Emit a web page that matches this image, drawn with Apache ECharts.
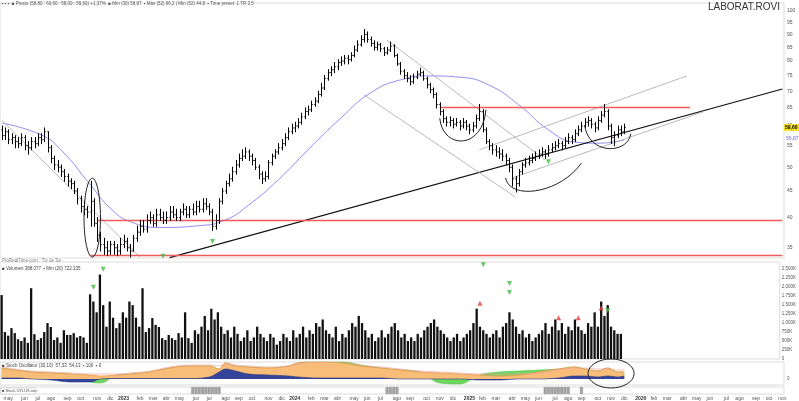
<!DOCTYPE html>
<html><head><meta charset="utf-8">
<script src="https://cdn.jsdelivr.net/npm/echarts@6/dist/echarts.min.js"></script>
<style>html,body{margin:0;padding:0;background:#fff}#c{width:799px;height:401px}</style>
</head><body><div id="c"></div>
<script>
// ---------- data ----------
const startDate = [2022, 3, 18];   // first weekly bar (Monday)
const weekCount = 238;             // weeks on the axis (data + empty future)
const MONTHS = ['ene','feb','mar','abr','may','jun','jul','ago','sep','oct','nov','dic'];

const open = [59,57.5,58.5,56.5,57,56,55.5,57,55,54.5,
56,55.5,57,56.5,58.5,54.5,52,50.5,50,49,
48,47,46.5,45,43.5,42,41.5,41,43,39,
37,35.5,35,34.5,35.5,35,34.5,35.5,36,35,
34.5,36.5,37.5,38.5,38,39.5,40,39,40.5,40,
39.5,40,41,40.5,40,41,41.5,40.5,41.5,41,
42,41.5,42.5,42,41,38.5,39.5,43,45,46.5,
47.5,49,50.5,52,52.5,53.5,52.5,51.5,50,48.5,
47.5,48,51,52.5,53.5,54.5,55.5,57,58.5,59.5,
60,61,62.5,64,64.5,66,67,69,71,74,
76,77,78,79.5,80,81,80.5,82,84,86,
88,90,88,86.5,85,86,84.5,83,84,85.5,
82,79,76.5,75,74,73,74.5,75.5,76,74,
72,70.5,69,66,64,62,61,61.5,60.5,61,
60,61,60,59,60,62,64,59,56,55,
54,53.5,53,52.5,51.5,50,47.5,46.5,49,50.5,
51,51.5,52,52.5,53,53.5,53,54,54.5,55,
55.5,55,56,57,56.5,58,59,60,61,61.5,
60.5,59.5,61.5,63,64,60,57,57.5,59,58.5];
const high = [60,59.5,59,58,57.5,57,58,57.5,56,57,
57,58,58,59.5,58.5,55,52.5,51.5,50.5,49.5,
48.5,47.5,47,45.5,44,43,42,47,43.5,40,
37.5,36.5,36,36,36,35.5,36.5,37,36.5,35.5,
37,38.5,39.5,39.5,40.5,41,40.5,41.5,41.5,41,
41,42,42,41.5,41.5,42.5,42,42,42.5,43,
43,43.5,43.5,42.5,41.5,40.5,43.5,45.5,47,48.5,
50,51.5,53,54,54.5,54,53,52,50.5,49,
49,51.5,53,54,55.5,56.5,58,59.5,60.5,61,
62,63.5,65,65.5,67,68,70,72.5,75,77,
78,79.5,80.5,81.5,82,82,83,85.5,87.5,89.5,
92,91,89,87.5,87,86.5,85,85,87,86,
82.5,79.5,77,76,75,75.5,76.5,77.5,76.5,74.5,
72.5,71,69.5,66.5,64.5,62.5,62.5,62,62,61.5,
62,61.5,60.5,61,63,66,64.5,59.5,56.5,55.5,
55,54.5,54,53,52,50.5,48,49.5,51,52,
52.5,53,53.5,54,54.5,54,55,55.5,56,56.5,
56,57,58,57.5,59,60,61,62,62.5,62,
61,62.5,64,66,64.5,60.5,58.5,60,60,60.5];
const low = [56.5,56.5,55.5,55.5,54.5,54.5,55,54,53,54,
54.5,55,55.5,56,53.5,51,49.5,49,48,47,
46,45.5,44.5,42.5,41,40.5,40,38.5,38.5,36,
34.5,34,33.8,34,34,33.8,34,35,34.5,33.6,
34.5,36,37,37.5,37.5,39,38.5,38.5,39.5,39,
39,39.5,40,39.5,39.5,40.5,40,40,40.5,40.5,
41,41,41.5,40.5,37.8,38,39,42.5,44.5,46,
47,48.5,50,51.5,52,51.5,50.5,49.5,47.5,46.5,
47,47.5,50.5,52,53,54,55,56.5,58,58.5,
59.5,60.5,62,63,64,65.5,66.5,68.5,70.5,73.5,
75,76,77,78.5,79,79,80,81.5,83.5,85.5,
87,87,85.5,84,84,83.5,82,82.5,83.5,81.5,
78.5,75.5,74,73,72,72.5,74,75,73.5,71,
69.5,68,65,63,61,60,60,59.5,60,59,
59.5,59,58,58.5,59.5,61.5,58.5,55.5,54,53,
52.5,52,51.5,50.5,49,46,44.8,46,48.5,50,
50.5,51,51.5,52,52.5,52,52.5,53.5,54,54.5,
54,54.5,55.5,55.5,56,57.5,58.5,59.5,60,59.5,
58.5,59,61,62.5,59,55.5,55,57,57.5,58];
const close = [57.5,58.5,56.5,57,56,55.5,57,55,54.5,56,
55.5,57,56.5,58.5,54.5,52,50.5,50,49,48,
47,46.5,45,43.5,42,41.5,41,43,39,37,
35.5,35,34.5,35.5,35,34.5,35.5,36,35,34.5,
36.5,37.5,38.5,38,39.5,40,39,40.5,40,39.5,
40,41,40.5,40,41,41.5,40.5,41.5,41,42,
41.5,42.5,42,41,38.5,39.5,43,45,46.5,47.5,
49,50.5,52,52.5,53.5,52.5,51.5,50,48.5,47.5,
48,51,52.5,53.5,54.5,55.5,57,58.5,59.5,60,
61,62.5,64,64.5,66,67,69,71,74,76,
77,78,79.5,80,81,80.5,82,84,86,88,
90,88,86.5,85,86,84.5,83,84,85.5,82,
79,76.5,75,74,73,74.5,75.5,76,74,72,
70.5,69,66,64,62,61,61.5,60.5,61,60,
61,60,59,60,62,64,59,56,55,54,
53.5,53,52.5,51.5,50,47.5,46.5,49,50.5,51,
51.5,52,52.5,53,53.5,53,54,54.5,55,55.5,
55,56,57,56.5,58,59,60,61,61.5,60.5,
59.5,61.5,63,64,60,57,57.5,59,58.5,59.6];
// weekly volume, millions of shares
const volume = [1.78,0.75,0.65,0.86,0.72,0.55,0.5,0.6,0.45,1.97,
0.69,0.53,0.58,0.75,1.0,0.89,0.53,0.6,0.45,0.8,
0.67,0.67,0.72,0.6,0.64,0.6,0.45,1.8,1.6,1.3,
2.35,1.5,0.9,1.6,1.15,0.86,1.0,1.3,1.15,1.6,
1.5,1.15,0.9,1.97,0.75,0.86,1.14,0.95,0.89,0.58,
0.53,0.67,0.58,0.53,0.72,0.6,1.3,0.58,0.45,0.8,
0.7,0.9,1.2,0.8,1.4,1.1,1.3,0.9,0.7,0.8,
0.6,0.9,0.7,0.5,0.6,0.8,0.5,0.6,0.9,0.7,
0.6,0.5,0.7,0.6,0.4,0.5,0.7,0.6,0.5,0.8,
0.6,0.7,0.9,0.6,0.8,0.7,1.0,0.9,1.1,0.8,
0.7,0.6,0.9,0.5,0.7,0.6,0.8,1.0,0.9,1.2,
1.0,0.8,0.6,0.7,0.5,0.6,0.8,0.6,0.7,0.9,
1.0,0.8,0.6,0.7,0.5,0.6,0.5,0.7,0.6,0.8,
0.9,1.0,1.1,0.9,0.8,0.7,0.6,0.5,0.6,0.7,
0.5,0.6,0.7,0.8,1.0,1.4,0.9,0.8,0.7,0.6,
0.7,0.8,0.6,0.9,1.0,1.3,1.1,0.9,0.7,0.8,
0.6,0.7,0.5,0.6,0.7,0.8,1.0,0.7,0.9,1.1,
0.8,1.0,0.7,0.9,0.8,1.1,0.9,0.8,0.7,1.0,
0.9,1.3,0.9,1.6,1.2,1.5,0.9,0.8,0.7,0.7];

// moving average (blue), read at sample weeks
const maWeek = [0,12,18,27,33,39,48,60,68,75,84,93,103,112,121,130,139,148,157,166,174,181,189];
const maValue = [60.8,57.7,54.0,46.2,41.7,39.3,38.3,38.6,39.6,42.3,47.3,54.0,62.2,69.5,73.6,74.9,74.5,71.9,65.9,59.0,55.9,55.6,56.4];

// oscillator panel, read at sample weeks
const oscWeek = [0,4,9,15,21,27,30,35,39,45,51,57,63,66,68,71,75,81,87,90,96,103,109,115,121,127,133,139,145,151,157,163,169,174,177,181,184,187,189];
const oscOrange = [11,9,7,6,5,4,3,4,5,7,11,13,13,10,16,13,12,11,13,16,17,16,13,11,9,7,6,5,4,3,4,7,10,12,10,8,11,7,7];
const oscNavy = [1,1,0,-1,-3,-3,0,0.5,0.5,0.5,0.5,0.5,2,7,10,8,5,4,3,2,1,1,1,1,0,0,0,0,-1,-1,0,0,1,3,3,2,3,2,3];
const oscGreen = [11,9,7,6,5,-3,-4,4,5,7,11,13,13,10,16,13,12,11,13,16,19,18,14,11,9,7,-4,-5,4,7,8,9,10,12,10,8,11,7,7];
const oscPink = [12,10,8,7,6,5,5,5,6,8,12,14,14,13,15,14,13,12,13,15,17,17,14,12,10,8,7,6,5,5,5,6,9,11,11,10,10,9,9];

const eventWeeks = [58,59,60,61,62,63,64,65,66,117,118,119,120,165,166,167,168,169,170,171,172,176];

const priceTicks = [35,40,45,50,55,60,65,70,75,80,85,90,95,100];
const priceRange = [33.45, 103.45];
const volMax = 2.7, volStep = 0.25;

// drawings (week index, price)
const trendLine = [[50.5, 33.5], [237, 70.7]];
const channelLines = [
  [[0, 61.6], [42, 33.6]],
  [[117, 87.8], [165, 51.6]],
  [[110, 68.9], [156, 43.8]],
  [[145, 54.0], [207.5, 74.9]],
  [[155, 47.7], [212.5, 63.9]]
];
const redLines = [[[133, 65.3], [209, 65.3]], [[29, 39.5], [237, 39.5]], [[27, 33.9], [237, 33.9]]];
const greenSignalsPrice = [[49, 33.7], [64, 36.0], [166, 51.2]];
const greenSignalsVol = [[28, 2.0], [31, 2.5], [147, 2.62], [155, 2.1], [155, 1.85], [185, 1.35]];
const redSignalsVol = [[146, 1.55], [170, 1.15], [176, 1.15], [183, 1.42]];
const lastPrice = 59.60, lastMA = 56.87;

// ---------- build ----------
const LN = Math.log;
const weeks = [];
for (let k = 0; k < weekCount; k++) {
  const d = new Date(Date.UTC(startDate[0], startDate[1], startDate[2]) + k * 7 * 864e5);
  weeks.push(d.toISOString().slice(0, 10));
}
const ohlc = close.map((c, i) => [i, LN(open[i]), LN(high[i]), LN(low[i]), LN(c)]);
const pair = (xs, ys, f) => xs.map((x, k) => [x, f ? f(ys[k]) : ys[k]]);

const chart = echarts.init(document.getElementById('c'), null, {width: 799, height: 401});
const gridCommon = {left: 0, right: 15, show: true, borderColor: '#dcdcdc', borderWidth: 1, backgroundColor: '#fff'};
const grids = [
  Object.assign({top: 3, height: 255}, gridCommon),
  Object.assign({top: 262, height: 97}, gridCommon),
  Object.assign({top: 362, height: 23}, gridCommon),
  Object.assign({top: 387, height: 8}, gridCommon)
];
const xAxes = grids.map((g, gi) => ({
  type: 'category', gridIndex: gi, data: weeks, boundaryGap: true,
  axisLine: {show: false}, axisTick: {show: false}, splitLine: {show: false},
  axisLabel: gi === 3 ? {
    show: true, fontSize: 5, color: '#555', margin: 2,
    interval: (idx, val) => +val.slice(8, 10) <= 7,
    formatter: (val) => { const m = +val.slice(5, 7) - 1; return m === 0 ? '{y|' + val.slice(0, 4) + '}' : MONTHS[m]; },
    rich: {y: {fontSize: 5, fontWeight: 'bold', color: '#333'}}
  } : {show: false}
}));
const yAxes = [
  {type: 'value', gridIndex: 0, position: 'right', min: LN(priceRange[0]), max: LN(priceRange[1]),
   axisLine: {show: false}, axisTick: {show: false}, splitLine: {show: false},
   axisLabel: {customValues: priceTicks.map(LN), formatter: v => String(Math.round(Math.exp(v))), fontSize: 5, color: '#555', margin: 3}},
  {type: 'value', gridIndex: 1, position: 'right', min: 0, max: volMax, interval: volStep,
   axisLine: {show: false}, axisTick: {show: false}, splitLine: {show: false},
   axisLabel: {fontSize: 4.5, color: '#555', margin: 2, showMaxLabel: false,
     formatter: v => v === 0 ? '0' : Math.round(v * 1000).toLocaleString('de-DE') + 'K'}},
  {type: 'value', gridIndex: 2, position: 'right', min: -6, max: 17,
   axisLine: {show: false}, axisTick: {show: false}, splitLine: {show: false},
   axisLabel: {customValues: [0], formatter: () => '0', fontSize: 4.5, color: '#555', margin: 3}},
  {type: 'value', gridIndex: 3, position: 'right', min: 0, max: 1,
   axisLine: {show: false}, axisTick: {show: false}, splitLine: {show: false}, axisLabel: {show: false}}
];

const lnPair = p => [p[0], LN(p[1])];
const mlData = [];
mlData.push([{coord: lnPair(trendLine[0]), lineStyle: {color: '#111', width: 1.2, type: 'solid'}}, {coord: lnPair(trendLine[1])}]);
channelLines.forEach(l => mlData.push([{coord: lnPair(l[0]), lineStyle: {color: '#a8a8a8', width: 0.8, type: 'solid'}}, {coord: lnPair(l[1])}]));
redLines.forEach(l => mlData.push([{coord: lnPair(l[0]), lineStyle: {color: '#f05a5a', width: 1.3, type: 'solid'}}, {coord: lnPair(l[1])}]));

const areaLine = (data, color, fill, w, z) => ({
  type: 'line', xAxisIndex: 2, yAxisIndex: 2, data, smooth: 0.4, showSymbol: false, symbol: 'none', z,
  lineStyle: {color, width: w}, areaStyle: fill ? {color: fill, opacity: 1} : undefined, silent: true
});

const option = {
  animation: false,
  grid: grids, xAxis: xAxes, yAxis: yAxes,
  series: [
    {
      type: 'custom', xAxisIndex: 0, yAxisIndex: 0, data: ohlc, clip: true, z: 5,
      encode: {x: 0, y: [1, 2, 3, 4]},
      renderItem: (params, api) => {
        const i = api.value(0);
        const h = api.coord([i, api.value(2)]);
        const l = api.coord([i, api.value(3)]);
        const o = api.coord([i, api.value(1)]);
        const c = api.coord([i, api.value(4)]);
        const x = Math.round(h[0]) + 0.5;
        const w = 1.2;
        const st = {stroke: '#000', lineWidth: 1};
        return {type: 'group', children: [
          {type: 'line', shape: {x1: x, y1: h[1] - 0.5, x2: x, y2: l[1] + 0.5}, style: st},
          {type: 'line', shape: {x1: x - w, y1: o[1], x2: x, y2: o[1]}, style: st},
          {type: 'line', shape: {x1: x, y1: c[1], x2: x + w, y2: c[1]}, style: st}
        ]};
      }
    },
    {
      type: 'line', xAxisIndex: 0, yAxisIndex: 0, data: pair(maWeek, maValue, LN), smooth: 0.5,
      showSymbol: false, symbol: 'none', lineStyle: {color: '#8e8ef2', width: 1}, z: 3, silent: true,
      markLine: {silent: true, symbol: ['none', 'none'], label: {show: false}, animation: false, data: mlData}
    },
    {
      type: 'scatter', xAxisIndex: 0, yAxisIndex: 0, data: greenSignalsPrice.map(lnPair),
      symbol: 'triangle', symbolRotate: 180, symbolSize: [5, 5], itemStyle: {color: '#3cbf3c'}, z: 6, silent: true
    },
    {
      type: 'bar', xAxisIndex: 1, yAxisIndex: 1, data: volume, barWidth: 2.3, itemStyle: {color: '#111'}, silent: true
    },
    {
      type: 'scatter', xAxisIndex: 1, yAxisIndex: 1, data: greenSignalsVol,
      symbol: 'triangle', symbolRotate: 180, symbolSize: [5, 5], itemStyle: {color: '#3cbf3c'}, z: 6, silent: true
    },
    {
      type: 'scatter', xAxisIndex: 1, yAxisIndex: 1, data: redSignalsVol,
      symbol: 'triangle', symbolSize: [5, 5], itemStyle: {color: '#e53935'}, z: 6, silent: true
    },
    areaLine(pair(oscWeek, oscGreen), '#56c84a', '#6fd65f', 0.6, 2),
    areaLine(pair(oscWeek, oscOrange), '#e99a45', '#f8bd78', 0.8, 3),
    areaLine(pair(oscWeek, oscNavy), '#27357f', '#34449a', 0.6, 4),
    areaLine(pair(oscWeek, oscPink), '#f2a0a0', null, 0.7, 5),
    {
      type: 'bar', xAxisIndex: 3, yAxisIndex: 3, data: eventWeeks.map(w => [w, 1]), barWidth: 3,
      itemStyle: {color: '#a3a3a3', borderColor: '#888', borderWidth: 0.3}, silent: true
    }
  ]
};
chart.setOption(option);

// ---------- annotations placed through the chart's own coordinate conversion ----------
const P = (i, p) => chart.convertToPixel({xAxisIndex: 0, yAxisIndex: 0}, [i, LN(p)]);
const Q = (i, v) => chart.convertToPixel({xAxisIndex: 2, yAxisIndex: 2}, [i, v]);
function ellipseFrom(a, b) {
  return {type: 'ellipse', silent: true, z: 20,
    shape: {cx: (a[0] + b[0]) / 2, cy: (a[1] + b[1]) / 2, rx: Math.abs(b[0] - a[0]) / 2, ry: Math.abs(b[1] - a[1]) / 2},
    style: {fill: 'none', stroke: '#222', lineWidth: 1}};
}
function cup(s, c1, c2, e) {
  return {type: 'bezierCurve', silent: true, z: 20,
    shape: {x1: s[0], y1: s[1], cpx1: c1[0], cpy1: c1[1], cpx2: c2[0], cpy2: c2[1], x2: e[0], y2: e[1]},
    style: {fill: 'none', stroke: '#222', lineWidth: 1}};
}
const yLast = P(189, lastPrice)[1];
const yMA = P(189, lastMA)[1];
const tiny = (text, x, y, fill, size) => ({type: 'text', x, y, silent: true, z: 30,
  style: {text, fill: fill || '#444', font: (size || 5) + 'px "Liberation Sans", Arial, sans-serif'}});

chart.setOption({graphic: [
  ellipseFrom(P(24.6, 47.6), P(30.2, 33.6)),
  cup(P(133, 62.1), P(133.5, 54.0), P(145.5, 54.0), P(146.5, 64.5)),
  cup(P(152.5, 47.7), P(154, 43.3), P(169, 44.2), P(176, 50.9)),
  cup(P(176.8, 60.3), P(177.7, 52.8), P(189.8, 52.8), P(191, 58.0)),
  ellipseFrom(Q(178.3, 20), Q(191.8, -9)),
  {type: 'text', right: 19, top: 2, silent: true, style: {text: 'LABORAT.ROVI', fill: '#333', font: '10px "Liberation Sans", Arial, sans-serif'}},
  tiny('▪ ▪ ▪  ■ Precio (58,80 : 60,60 : 58,00 : 59,60) +1,37%  ■ Mm (30) 56,87  ▪ Máx (52) 66,2 | Mín (52) 44,8  ▪ Time preset: 1 TR 3,5', 2, 1, '#555', 4.5),
  tiny('ProRealTime.com · Tiv de Sa', 2, 258, '#888', 4.5),
  tiny('■ Volumen 388.077  ▪ Mm (20) 722.335', 2, 266, '#444', 4.5),
  tiny('■ Stoch Oscillator (30,10)  57,33  54,13  ▪ 100  ▪ 0', 2, 363, '#444', 4.5),
  {type: 'rect', x: 1, y: 388, silent: true, z: 29, shape: {width: 34, height: 6}, style: {fill: '#fff', stroke: '#bbb', lineWidth: 0.5}},
  tiny('■ Stock UTLUS ann', 2, 388.5, '#555', 4),
  {type: 'rect', x: 784, y: yLast - 3.5, silent: true, z: 29, shape: {width: 15, height: 7}, style: {fill: '#f3e12a'}},
  {type: 'text', x: 785, y: yLast - 2.5, silent: true, z: 30, style: {text: '59,60', fill: '#000', font: 'bold 5px "Liberation Sans", Arial, sans-serif'}},
  {type: 'text', x: 786, y: yMA - 2.5, silent: true, z: 30, style: {text: '56,87', fill: '#6a6ae8', font: '5px "Liberation Sans", Arial, sans-serif'}}
]});
</script>
</body></html>
